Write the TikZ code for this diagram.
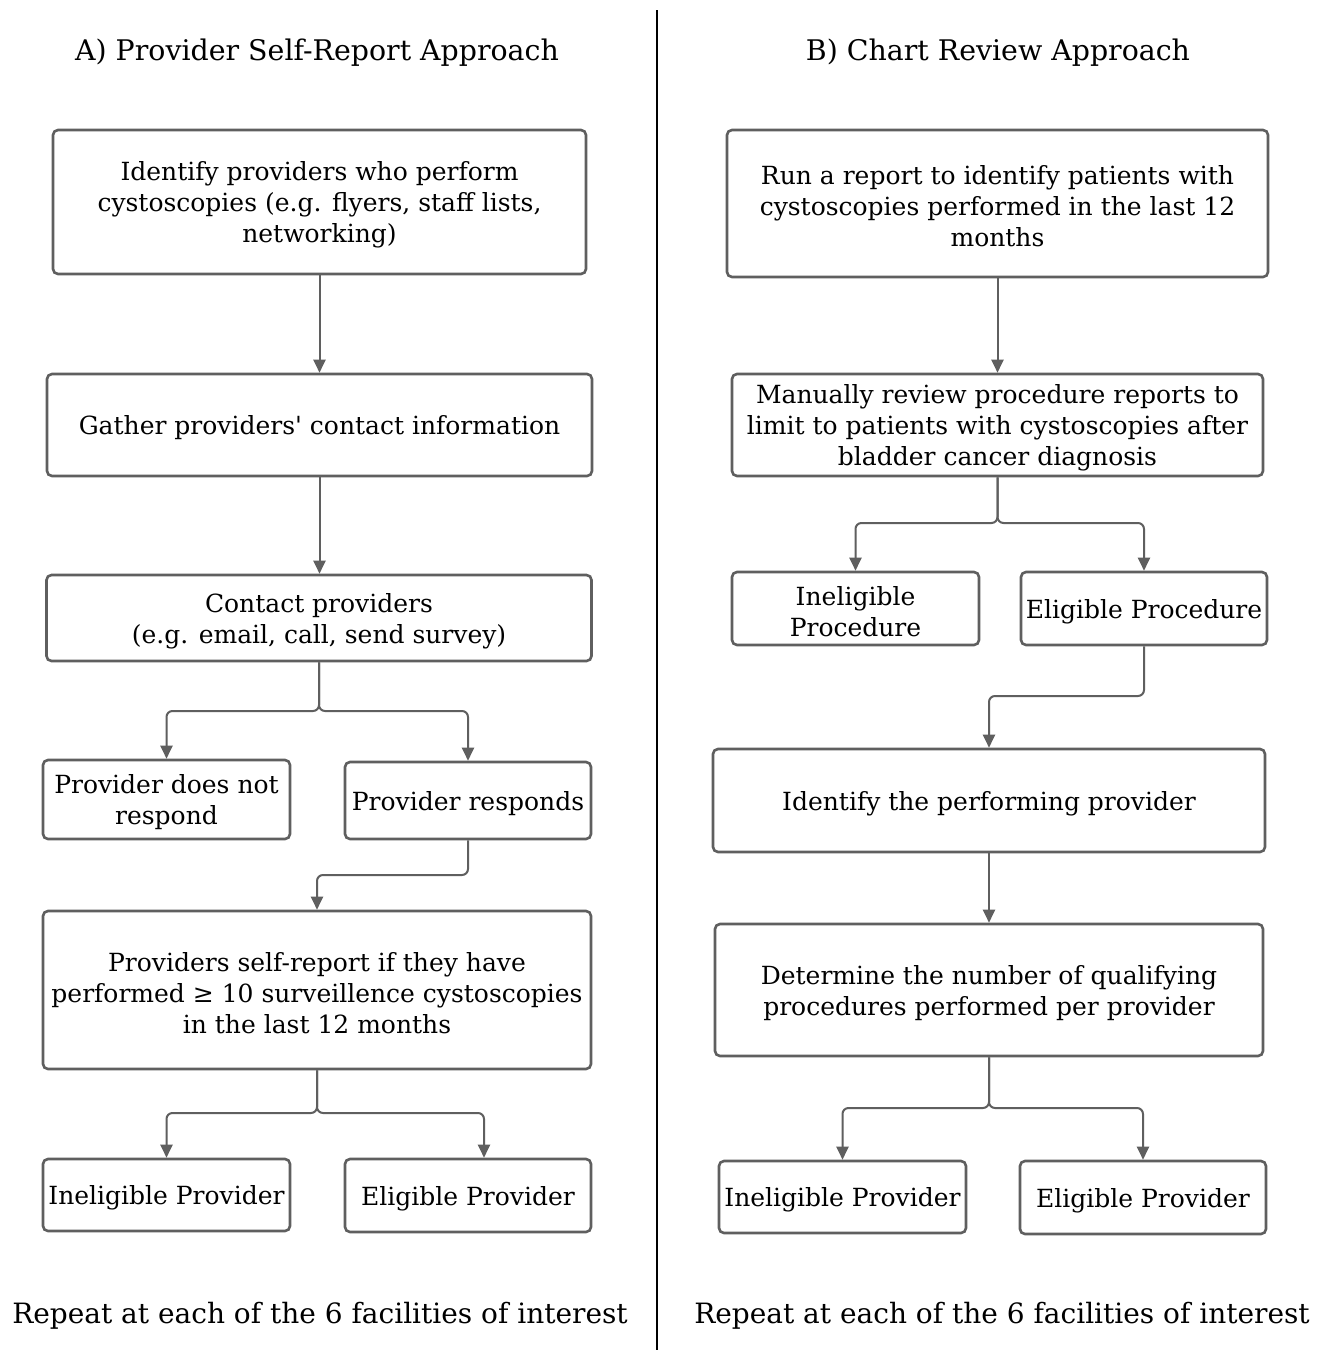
\documentclass[tikz,border=0pt]{standalone}
\usepackage{fontspec}
\newfontfamily\dvs{DejaVu Serif}
\usetikzlibrary{arrows.meta}
\definecolor{boxgray}{RGB}{95,95,95}
\tikzset{
  x=1pt, y=-1pt,
  pbox/.style={draw=boxgray, line width=2.6pt, rounded corners=5pt, fill=white,
    inner sep=0pt},
  btxt/.style={align=center, inner sep=0pt, font=\dvs\fontsize{25}{31}\selectfont},
  conn/.style={draw=boxgray, line width=2pt, rounded corners=6pt,
    -{Triangle[length=13pt,width=12pt]}},
  ttl/.style={font=\dvs\fontsize{28.4}{32}\selectfont},
  foot/.style={font=\dvs\fontsize{28}{32}\selectfont},
}
\newcommand{\bx}[5]{\node[pbox, minimum width=#3pt, minimum height=#4pt] (#1) at (#2) {};
  \node[btxt, yshift=-3pt] (#1t) at (#1.center) {#5};}
\begin{document}
\begin{tikzpicture}
\useasboundingbox (0,0) rectangle (1328,1350);
\fill[white] (0,0) rectangle (1328,1350);
% divider
\draw[black, line width=2.6pt] (657,10) -- (657,1350);
% titles
\node[ttl] (ta) at (317,53) {A) Provider Self-Report Approach};
\node[ttl] (tb) at (998,53) {B) Chart Review Approach};
% left column
\bx{a1}{319.5,202}{533}{144}{Identify providers who perform\\cystoscopies (e.g. flyers, staff lists,\\networking)}
\bx{a2}{319.5,425}{545}{102}{Gather providers' contact information}
\bx{a3}{319,618}{545}{86}{Contact providers\\(e.g. email, call, send survey)}
\bx{a4}{166.5,799.5}{247}{79}{Provider does not\\respond}
\bx{a5}{468,800.5}{246}{77}{Provider responds}
\bx{a6}{317,990}{548}{158}{Providers self-report if they have\\performed ≥ 10 surveillence cystoscopies\\in the last 12 months}
\bx{a7}{166.5,1195}{247}{72}{Ineligible Provider}
\bx{a8}{468,1195.5}{246}{73}{Eligible Provider}
% right column
\bx{b1}{997.5,203.5}{541}{147}{Run a report to identify patients with\\cystoscopies performed in the last 12\\months}
\bx{b2}{997.5,425}{531}{102}{Manually review procedure reports to\\limit to patients with cystoscopies after\\bladder cancer diagnosis}
\bx{b3}{855.5,608.5}{247}{73}{Ineligible\\Procedure}
\bx{b4}{1144,608.5}{246}{73}{Eligible Procedure}
\bx{b5}{989,800.5}{552}{103}{Identify the performing provider}
\bx{b6}{989,990}{548}{132}{Determine the number of qualifying\\procedures performed per provider}
\bx{b7}{842.5,1197}{247}{72}{Ineligible Provider}
\bx{b8}{1143,1197.5}{246}{73}{Eligible Provider}
% footers
\node[foot] (fa) at (320,1316) {Repeat at each of the 6 facilities of interest};
\node[foot] (fb) at (1002,1316) {Repeat at each of the 6 facilities of interest};
% left connectors
\draw[conn] (a1.south) -- (a1.south |- a2.north);
\draw[conn] (a2.south) -- (a2.south |- a3.north);
\draw[conn] (a3.south) -- (319,711) -| (a4.north);
\draw[conn] (a3.south) -- (319,711) -| (a5.north);
\draw[conn] (a5.south) -- (468,875) -| (a6.north);
\draw[conn] (a6.south) -- (317,1113) -| (a7.north);
\draw[conn] (a6.south) -- (317,1113) -| (484,0 |- a8.north);
% right connectors
\draw[conn] (b1.south) -- (b2.north);
\draw[conn] (b2.south) -- (997.5,523) -| (b3.north);
\draw[conn] (b2.south) -- (997.5,523) -| (b4.north);
\draw[conn] (b4.south) -- (1144,696) -| (b5.north);
\draw[conn] (b5.south) -- (b6.north);
\draw[conn] (b6.south) -- (989,1108) -| (b7.north);
\draw[conn] (b6.south) -- (989,1108) -| (b8.north);
\end{tikzpicture}
\end{document}
